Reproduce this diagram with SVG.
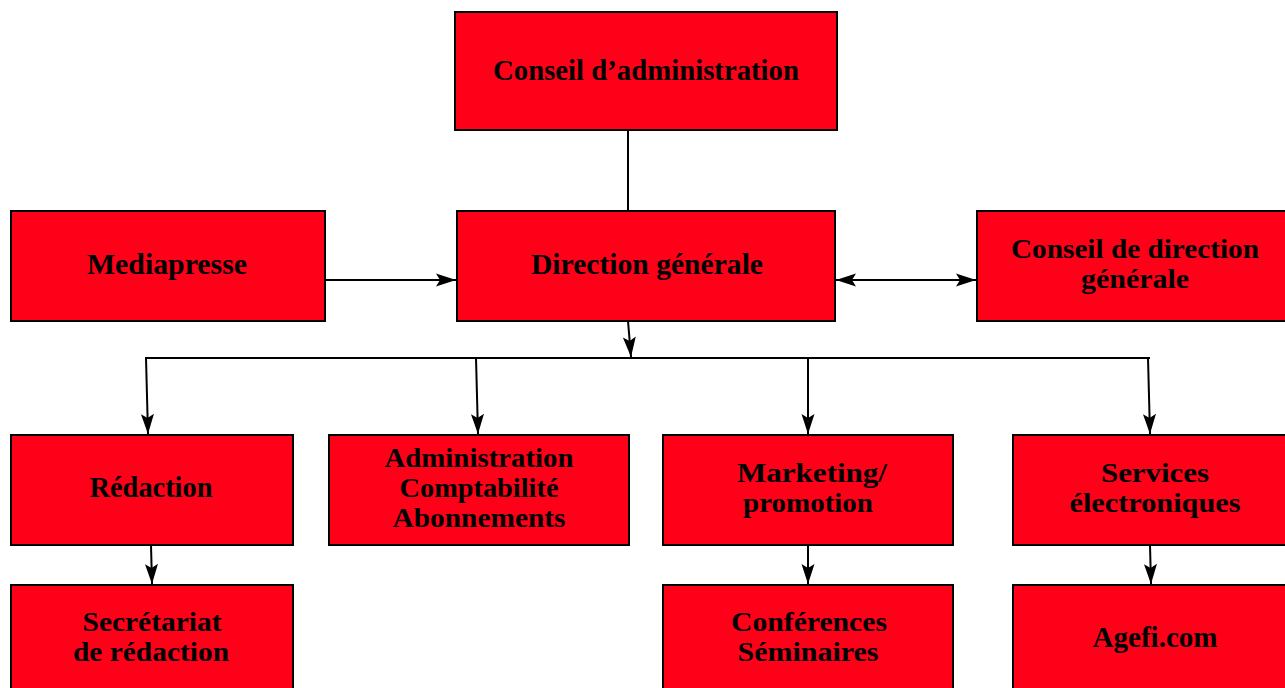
<svg xmlns="http://www.w3.org/2000/svg" width="1285" height="688" viewBox="0 0 1285 688">
<defs>
<marker id="ah" markerUnits="userSpaceOnUse" markerWidth="24" markerHeight="16" viewBox="-22 -8 24 16" refX="0" refY="0" orient="auto-start-reverse">
<path d="M0,0 L-20,-6.5 L-16,0 L-20,6.5 Z" fill="#000"/>
</marker>
<style>
.box{fill:#ff0019;stroke:#000;stroke-width:2}
.t{font-family:"Liberation Serif","Times New Roman",serif;font-weight:bold;font-size:29px;fill:#000;text-anchor:middle}
.s{font-size:27px}
.c{fill:none;stroke:#000;stroke-width:2}
</style>
</defs>
<rect width="1285" height="688" fill="#fff"/>
<g id="connectors">
<line class="c" x1="628" y1="130" x2="628" y2="211"/>
<line class="c" x1="325" y1="280" x2="456" y2="280" marker-end="url(#ah)"/>
<line class="c" x1="836" y1="280" x2="976" y2="280" marker-start="url(#ah)" marker-end="url(#ah)"/>
<line class="c" x1="628" y1="321" x2="631" y2="357" marker-end="url(#ah)"/>
<line class="c" x1="145" y1="358" x2="1150" y2="358"/>
<line class="c" x1="146" y1="358" x2="148" y2="434" marker-end="url(#ah)"/>
<line class="c" x1="476" y1="358" x2="478" y2="434" marker-end="url(#ah)"/>
<line class="c" x1="808" y1="358" x2="808" y2="434" marker-end="url(#ah)"/>
<line class="c" x1="1148" y1="358" x2="1150" y2="434" marker-end="url(#ah)"/>
<line class="c" x1="151" y1="545" x2="152" y2="584" marker-end="url(#ah)"/>
<line class="c" x1="808" y1="545" x2="808" y2="584" marker-end="url(#ah)"/>
<line class="c" x1="1150" y1="545" x2="1151" y2="584" marker-end="url(#ah)"/>
</g>
<g id="conseil-admin">
<rect class="box" x="455" y="12" width="382" height="118"/>
<text class="t" x="646" y="80" textLength="306" lengthAdjust="spacingAndGlyphs">Conseil d’administration</text>
</g>
<g id="mediapresse">
<rect class="box" x="11" y="211" width="314" height="110"/>
<text class="t" x="167" y="274" textLength="160" lengthAdjust="spacingAndGlyphs">Mediapresse</text>
</g>
<g id="direction-generale">
<rect class="box" x="457" y="211" width="378" height="110"/>
<text class="t" x="647" y="274" textLength="232" lengthAdjust="spacingAndGlyphs">Direction générale</text>
</g>
<g id="conseil-direction">
<rect class="box" x="977" y="211" width="310" height="110"/>
<text class="t s" x="1135" y="258" textLength="248" lengthAdjust="spacingAndGlyphs">Conseil de direction</text>
<text class="t s" x="1135" y="288" textLength="108" lengthAdjust="spacingAndGlyphs">générale</text>
</g>
<g id="redaction">
<rect class="box" x="11" y="435" width="282" height="110"/>
<text class="t" x="151" y="497" textLength="123" lengthAdjust="spacingAndGlyphs">Rédaction</text>
</g>
<g id="administration">
<rect class="box" x="329" y="435" width="300" height="110"/>
<text class="t s" x="479" y="467" textLength="189" lengthAdjust="spacingAndGlyphs">Administration</text>
<text class="t s" x="479" y="497" textLength="159" lengthAdjust="spacingAndGlyphs">Comptabilité</text>
<text class="t s" x="479" y="527" textLength="173" lengthAdjust="spacingAndGlyphs">Abonnements</text>
</g>
<g id="marketing">
<rect class="box" x="663" y="435" width="290" height="110"/>
<text class="t s" x="812" y="482" textLength="150" lengthAdjust="spacingAndGlyphs">Marketing/</text>
<text class="t s" x="808" y="512" textLength="130" lengthAdjust="spacingAndGlyphs">promotion</text>
</g>
<g id="services">
<rect class="box" x="1013" y="435" width="274" height="110"/>
<text class="t s" x="1155" y="482" textLength="108" lengthAdjust="spacingAndGlyphs">Services</text>
<text class="t s" x="1155" y="512" textLength="171" lengthAdjust="spacingAndGlyphs">électroniques</text>
</g>
<g id="secretariat">
<rect class="box" x="11" y="585" width="282" height="110"/>
<text class="t s" x="152" y="631" textLength="139" lengthAdjust="spacingAndGlyphs">Secrétariat</text>
<text class="t s" x="151" y="661" textLength="156" lengthAdjust="spacingAndGlyphs">de rédaction</text>
</g>
<g id="conferences">
<rect class="box" x="663" y="585" width="290" height="110"/>
<text class="t s" x="809" y="631" textLength="156" lengthAdjust="spacingAndGlyphs">Conférences</text>
<text class="t s" x="808" y="661" textLength="141" lengthAdjust="spacingAndGlyphs">Séminaires</text>
</g>
<g id="agefi">
<rect class="box" x="1013" y="585" width="274" height="110"/>
<text class="t" x="1155" y="647" textLength="125" lengthAdjust="spacingAndGlyphs">Agefi.com</text>
</g>
</svg>
